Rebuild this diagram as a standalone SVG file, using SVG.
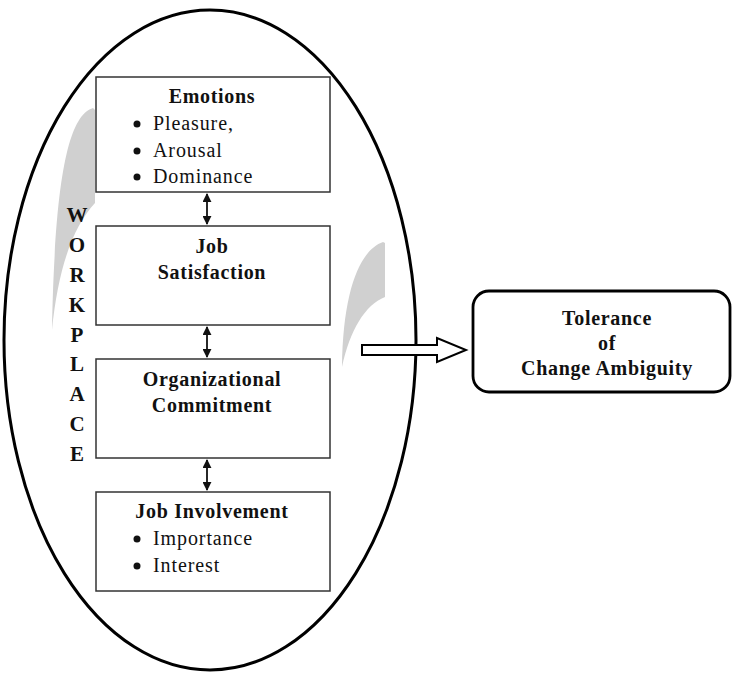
<svg xmlns="http://www.w3.org/2000/svg" width="737" height="673" viewBox="0 0 737 673">
<defs>
<style>
.box{fill:#fff;stroke:#333;stroke-width:1.5}
.t{font-family:'Liberation Serif','DejaVu Serif','Times New Roman',serif;font-size:20px;fill:#111;letter-spacing:0.9px}
.b{font-weight:bold;letter-spacing:0.7px}
.c{text-anchor:middle}
.wp{font-family:'Liberation Serif','DejaVu Serif','Times New Roman',serif;font-size:21px;font-weight:bold;fill:#111;text-anchor:middle}
.dot{fill:#111}
.conn{stroke:#111;stroke-width:1.8;fill:none}
.gray{fill:#d0d0d0}
</style>
<marker id="ah" viewBox="0 0 10 10" refX="9" refY="5" markerWidth="5" markerHeight="5" orient="auto-start-reverse" markerUnits="strokeWidth">
<path d="M0,0 L10,5 L0,10 Z" fill="#111"/>
</marker>
</defs>
<rect width="737" height="673" fill="#fff"/>
<g id="workplace">
<ellipse cx="210" cy="340" rx="206" ry="330" fill="none" stroke="#000" stroke-width="3"/>
<path class="gray" d="M93,108 C70,115 55,170 52,330 C58,270 72,228 95,203 L95,110 Z"/>
<path class="gray" d="M383,242 C360,250 343,290 342,367 C350,330 365,305 385,297 L385,243 Z"/>
<text class="wp" x="77" y="222">W</text>
<text class="wp" x="77" y="252">O</text>
<text class="wp" x="77" y="282">R</text>
<text class="wp" x="77" y="312">K</text>
<text class="wp" x="77" y="342">P</text>
<text class="wp" x="77" y="371">L</text>
<text class="wp" x="77" y="401">A</text>
<text class="wp" x="77" y="431">C</text>
<text class="wp" x="77" y="461">E</text>
</g>
<g id="emotions">
<rect class="box" x="96" y="77" width="234" height="115"/>
<text class="t b c" x="212" y="103">Emotions</text>
<circle class="dot" cx="137" cy="124" r="3.5"/>
<text class="t" x="153" y="130">Pleasure,</text>
<circle class="dot" cx="137" cy="151" r="3.5"/>
<text class="t" x="153" y="157">Arousal</text>
<circle class="dot" cx="137" cy="177" r="3.5"/>
<text class="t" x="153" y="183">Dominance</text>
</g>
<g id="job-satisfaction">
<rect class="box" x="96" y="226" width="234" height="99"/>
<text class="t b c" x="212" y="253">Job</text>
<text class="t b c" x="212" y="279">Satisfaction</text>
</g>
<g id="organizational-commitment">
<rect class="box" x="96" y="359" width="234" height="99"/>
<text class="t b c" x="212" y="386">Organizational</text>
<text class="t b c" x="212" y="412">Commitment</text>
</g>
<g id="job-involvement">
<rect class="box" x="96" y="492" width="234" height="99"/>
<text class="t b c" x="212" y="518">Job Involvement</text>
<circle class="dot" cx="137" cy="539" r="3.5"/>
<text class="t" x="153" y="545">Importance</text>
<circle class="dot" cx="137" cy="566" r="3.5"/>
<text class="t" x="153" y="572">Interest</text>
</g>
<g id="tolerance">
<rect x="473" y="291" width="257" height="101" rx="16" ry="16" fill="#fff" stroke="#000" stroke-width="2.8"/>
<text class="t b c" x="607" y="325">Tolerance</text>
<text class="t b c" x="607" y="350">of</text>
<text class="t b c" x="607" y="375">Change Ambiguity</text>
</g>
<g id="connectors">
<line class="conn" x1="207" y1="194" x2="207" y2="224" marker-start="url(#ah)" marker-end="url(#ah)"/>
<line class="conn" x1="207" y1="327" x2="207" y2="357" marker-start="url(#ah)" marker-end="url(#ah)"/>
<line class="conn" x1="207" y1="460" x2="207" y2="490" marker-start="url(#ah)" marker-end="url(#ah)"/>
<path d="M362,345 L437,345 L437,338 L466,350 L437,362 L437,355 L362,355 Z" fill="#fff" stroke="#000" stroke-width="2"/>
</g>
</svg>
